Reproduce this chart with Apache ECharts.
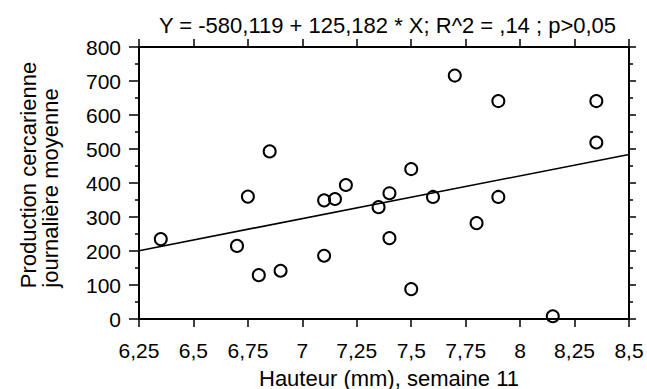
<!DOCTYPE html>
<html><head><meta charset="utf-8">
<script src="https://cdn.jsdelivr.net/npm/echarts@6/dist/echarts.min.js"></script>
<style>html,body{margin:0;padding:0;background:#fff}#c{width:647px;height:389px}</style>
</head><body><div id="c"></div>
<script>
// ---- data ----
const titleText = 'Y = -580,119 + 125,182 * X; R^2 = ,14 ; p>0,05';
const xAxisName = 'Hauteur (mm), semaine 11';
const yAxisNameLines = ['Production cercarienne', 'journalière moyenne'];
const hauteur = [6.35, 6.70, 6.75, 6.85, 6.80, 6.90, 7.10, 7.10, 7.15, 7.20, 7.35, 7.40, 7.40,
                 7.50, 7.50, 7.60, 7.70, 7.80, 7.90, 7.90, 8.15, 8.35, 8.35];
const production = [235, 215, 360, 493, 129, 142, 349, 186, 353, 394, 329, 370, 238,
                    441, 88, 359, 716, 282, 641, 359, 8, 641, 519];
const fitX = [6.25, 8.5];
const fitY = [201, 484];
const xMin = 6.25, xMax = 8.5, xStep = 0.25;
const yMin = 0, yMax = 800, yStep = 100;

// ---- chart ----
const FONT = '"Liberation Sans", Arial, sans-serif';
const chart = echarts.init(document.getElementById('c'), null, {renderer: 'svg'});
const fmt = v => String(v).replace('.', ',');
const axisLine = {show: true, onZero: false, lineStyle: {color: '#000', width: 2}};
const opt = {
  animation: false,
  backgroundColor: '#fff',
  grid: {left: 139, right: 18, top: 47, bottom: 70, containLabel: false},
  xAxis: [
    {type: 'value', position: 'bottom', min: xMin, max: xMax, interval: xStep,
     axisLine: axisLine, axisTick: {show: true, length: 8, lineStyle: {color: '#000', width: 1.5}},
     axisLabel: {show: true, formatter: fmt, fontSize: 21, color: '#000', fontFamily: FONT, margin: 21},
     splitLine: {show: false}},
    {type: 'value', position: 'top', min: xMin, max: xMax, interval: xStep,
     axisLine: axisLine, axisTick: {show: true, length: 8, lineStyle: {color: '#000', width: 1.5}},
     axisLabel: {show: false}, splitLine: {show: false}}
  ],
  yAxis: [
    {type: 'value', position: 'left', min: yMin, max: yMax, interval: yStep,
     axisLine: axisLine, axisTick: {show: true, length: 10, lineStyle: {color: '#000', width: 1.5}},
     minorTick: {show: true, splitNumber: 2, length: 4, lineStyle: {color: '#000', width: 1.5}},
     axisLabel: {show: true, fontSize: 21, color: '#000', fontFamily: FONT, margin: 18},
     splitLine: {show: false}, minorSplitLine: {show: false}},
    {type: 'value', position: 'right', min: yMin, max: yMax, interval: yStep,
     axisLine: axisLine, axisTick: {show: true, length: 7, lineStyle: {color: '#000', width: 1.5}},
     minorTick: {show: true, splitNumber: 2, length: 4, lineStyle: {color: '#000', width: 1.5}},
     axisLabel: {show: false}, splitLine: {show: false}, minorSplitLine: {show: false}}
  ],
  graphic: [
    {type: 'text', x: 387.5, y: 25, z: 10,
     style: {text: titleText, fontSize: 22, fontFamily: FONT, fill: '#000',
             align: 'center', verticalAlign: 'middle', textAlign: 'center', textVerticalAlign: 'middle'}},
    {type: 'text', x: 389, y: 378, z: 10,
     style: {text: xAxisName, fontSize: 22, fontFamily: FONT, fill: '#000',
             align: 'center', verticalAlign: 'middle', textAlign: 'center', textVerticalAlign: 'middle'}},
    {type: 'text', x: 28.5, y: 175, rotation: Math.PI / 2, z: 10,
     style: {text: yAxisNameLines[0], fontSize: 22, fontFamily: FONT, fill: '#000',
             align: 'center', verticalAlign: 'middle', textAlign: 'center', textVerticalAlign: 'middle'}},
    {type: 'text', x: 50.5, y: 188, rotation: Math.PI / 2, z: 10,
     style: {text: yAxisNameLines[1], fontSize: 22, fontFamily: FONT, fill: '#000',
             align: 'center', verticalAlign: 'middle', textAlign: 'center', textVerticalAlign: 'middle'}}
  ],
  series: [
    {type: 'line', xAxisIndex: 0, yAxisIndex: 0, silent: true, showSymbol: false,
     data: fitX.map((x, i) => [x, fitY[i]]),
     lineStyle: {color: '#000', width: 1.6}, z: 2},
    {type: 'scatter', xAxisIndex: 0, yAxisIndex: 0, symbol: 'circle', symbolSize: 12,
     data: hauteur.map((x, i) => [x, production[i]]),
     itemStyle: {color: 'rgba(0,0,0,0)', borderColor: '#000', borderWidth: 2, opacity: 1}, z: 3}
  ]
};
chart.setOption(opt);
</script>
</body></html>
